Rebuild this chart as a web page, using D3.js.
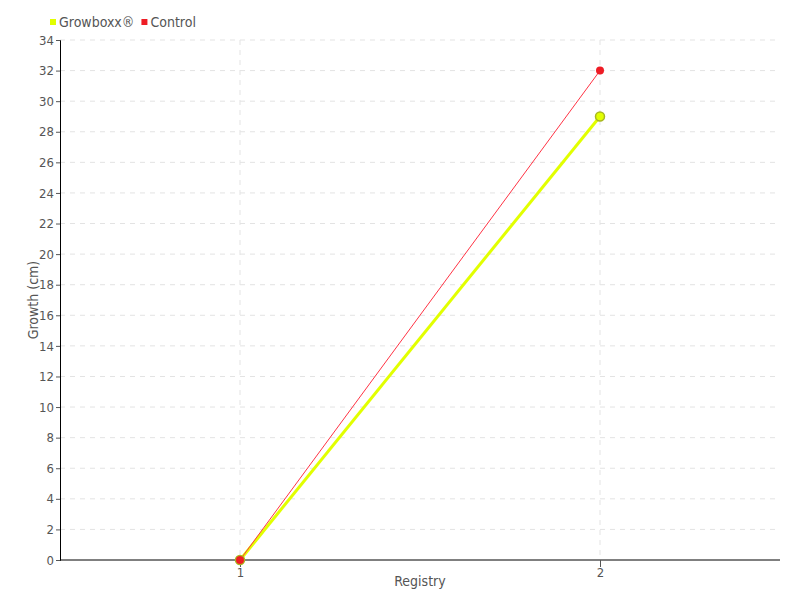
<!DOCTYPE html>
<html>
<head>
<meta charset="utf-8">
<script src="https://cdn.jsdelivr.net/npm/d3@7"></script>
<style>
  body { margin: 0; background: #fff; }
  svg text { font-family: "DejaVu Sans Condensed", sans-serif; fill: #555; }
</style>
</head>
<body>
<svg id="chart" width="800" height="600"></svg>
<script>
const registries = ["1", "2"];
const growboxx = [0, 29];
const control = [0, 32];
const yTicks = d3.range(0, 35, 2);

const margin = { top: 40, right: 20, bottom: 40, left: 60 };
const width = 800, height = 600;

const svg = d3.select("#chart");

const x = d3.scalePoint()
  .domain(registries)
  .range([margin.left, width - margin.right])
  .padding(0.5);

const y = d3.scaleLinear()
  .domain([0, 34])
  .range([height - margin.bottom, margin.top]);

// grid
const grid = svg.append("g");
grid.selectAll("line.h")
  .data(yTicks.filter(d => d > 0))
  .enter().append("line")
  .attr("x1", margin.left).attr("x2", width - margin.right)
  .attr("y1", d => y(d)).attr("y2", d => y(d))
  .attr("stroke", "#e3e3e3").attr("stroke-dasharray", "5,5");
grid.selectAll("line.v")
  .data(registries)
  .enter().append("line")
  .attr("x1", d => x(d)).attr("x2", d => x(d))
  .attr("y1", margin.top).attr("y2", height - margin.bottom)
  .attr("stroke", "#e3e3e3").attr("stroke-dasharray", "5,5");

// axes
const yAxis = svg.append("g")
  .attr("transform", `translate(${margin.left},0)`)
  .call(d3.axisLeft(y).tickValues(yTicks).tickSize(4).tickPadding(2));
yAxis.select(".domain").attr("stroke", "#000");
yAxis.selectAll(".tick line").attr("stroke", "#555");
yAxis.selectAll(".tick text").attr("font-size", 13);

const xAxis = svg.append("g")
  .attr("transform", `translate(0,${height - margin.bottom})`)
  .call(d3.axisBottom(x).tickSize(7).tickPadding(1).tickSizeOuter(0));
xAxis.select(".domain").attr("stroke", "#000")
  .attr("d", `M${margin.left},0H${width - margin.right}`);
xAxis.selectAll(".tick line").attr("stroke", "#555");
xAxis.selectAll(".tick text").attr("font-size", 13);

// axis titles
svg.append("text")
  .attr("x", (margin.left + width - margin.right) / 2)
  .attr("y", 586)
  .attr("text-anchor", "middle")
  .attr("font-size", 14)
  .text("Registry");
svg.append("text")
  .attr("transform", `translate(38,${(margin.top + height - margin.bottom) / 2}) rotate(-90)`)
  .attr("text-anchor", "middle")
  .attr("font-size", 14)
  .text("Growth (cm)");

// lines
const line = d3.line()
  .x((d, i) => x(registries[i]))
  .y(d => y(d));

svg.append("path")
  .datum(growboxx)
  .attr("d", line)
  .attr("fill", "none")
  .attr("stroke", "#e2ff00")
  .attr("stroke-width", 3);

svg.append("path")
  .datum(control)
  .attr("d", line)
  .attr("fill", "none")
  .attr("stroke", "#ff3344")
  .attr("stroke-width", 1);

svg.append("g").selectAll("circle")
  .data(growboxx)
  .enter().append("circle")
  .attr("cx", (d, i) => x(registries[i]))
  .attr("cy", d => y(d))
  .attr("r", 4.5)
  .attr("fill", "#e2ff00")
  .attr("stroke", "#a8b820")
  .attr("stroke-width", 1.5);

svg.append("g").selectAll("circle")
  .data(control)
  .enter().append("circle")
  .attr("cx", (d, i) => x(registries[i]))
  .attr("cy", d => y(d))
  .attr("r", 4)
  .attr("fill", "#ee1c25");

// legend
const legendItems = [
  { name: "Growboxx®", color: "#e2ff00" },
  { name: "Control", color: "#ee1c25" }
];
const legend = svg.append("g").attr("transform", "translate(50,22)");
let lx = 0;
legendItems.forEach(item => {
  const g = legend.append("g").attr("transform", `translate(${lx},0)`);
  g.append("rect").attr("x", 0).attr("y", -3).attr("width", 6).attr("height", 6).attr("fill", item.color);
  const t = g.append("text").attr("x", 9).attr("y", 5).attr("font-size", 14).text(item.name);
  lx += 9 + t.node().getComputedTextLength() + 7;
});
</script>
</body>
</html>
